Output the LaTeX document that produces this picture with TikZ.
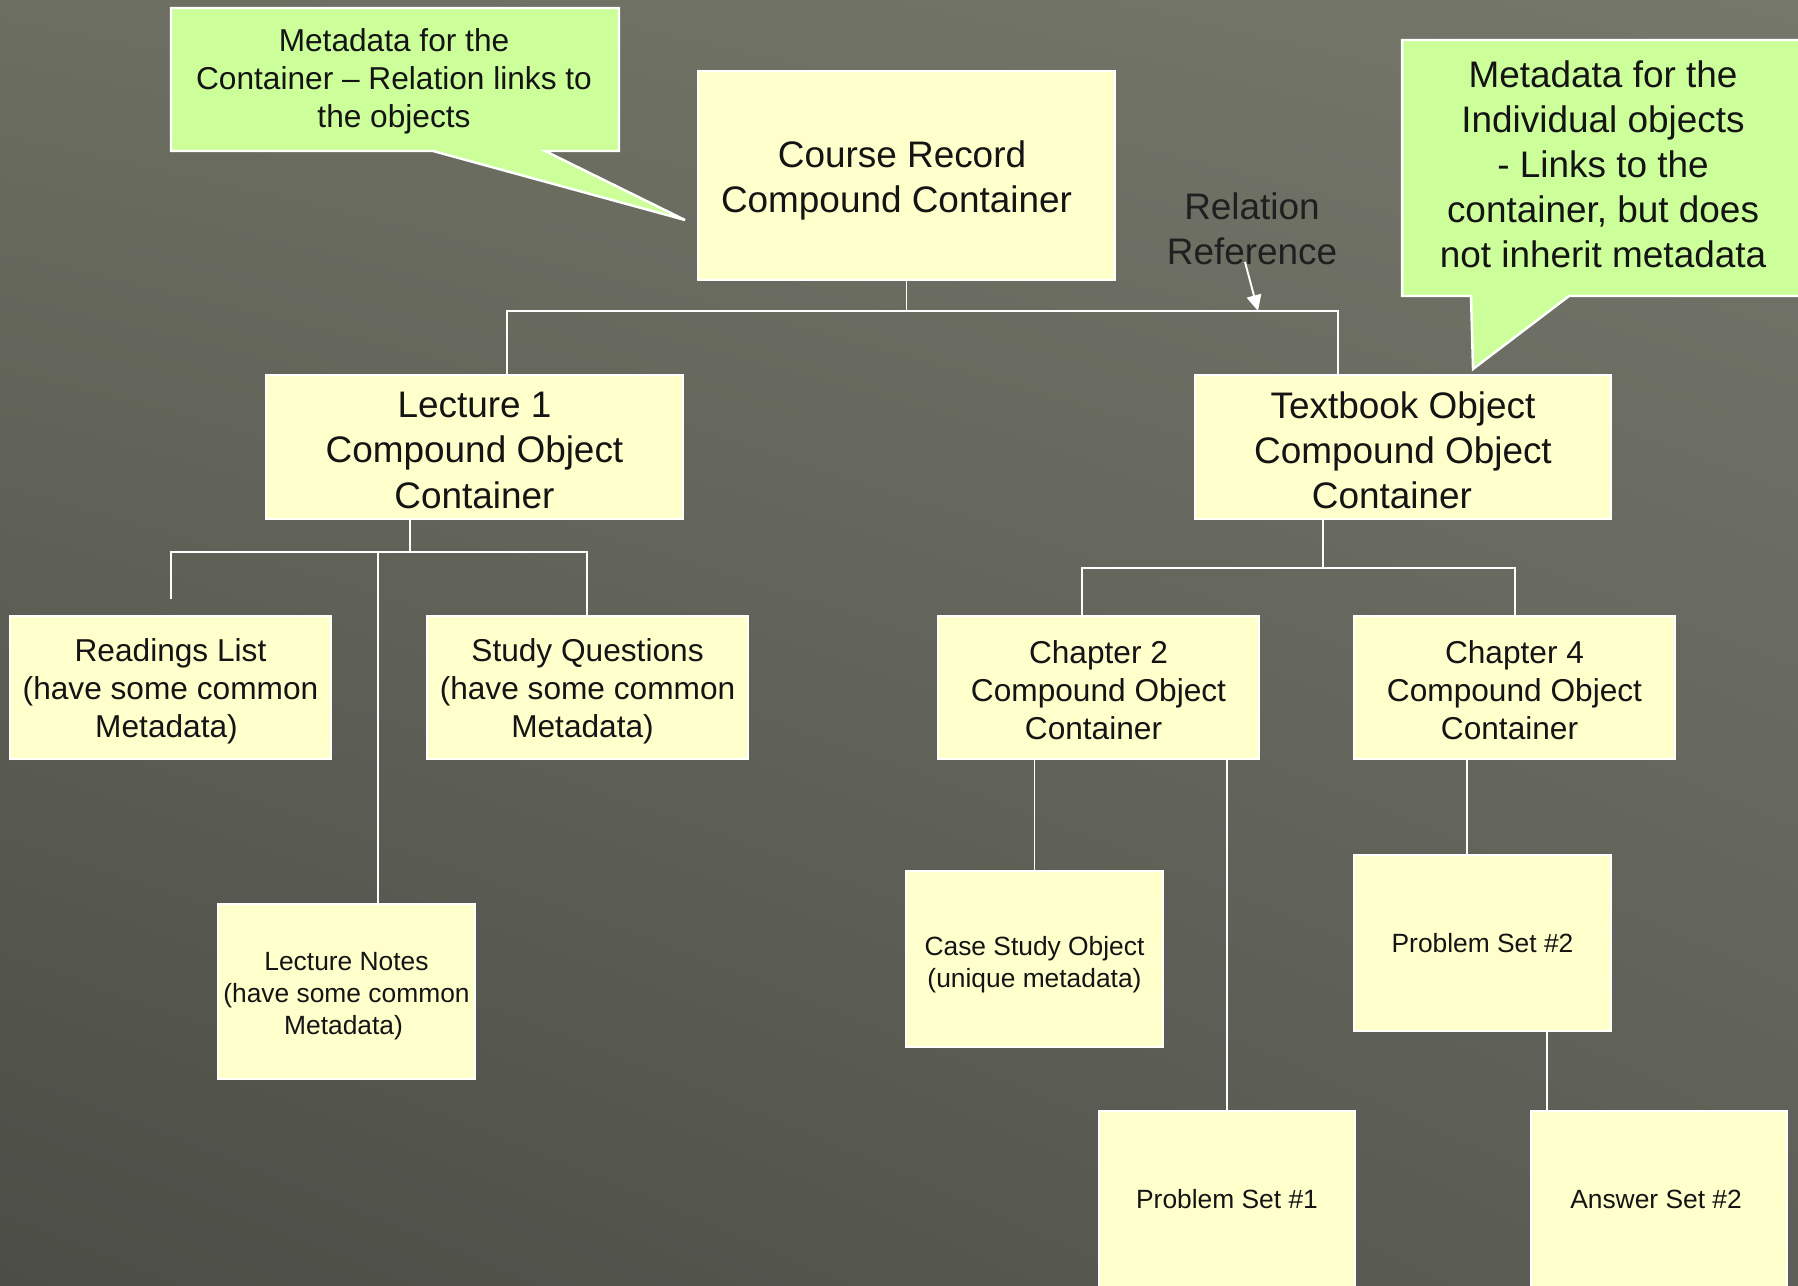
\documentclass[tikz,border=0pt]{standalone}
\usepackage{fontspec}
\setmainfont{Liberation Sans}
\usetikzlibrary{arrows.meta,positioning,shadings}
\definecolor{bgtl}{RGB}{108,110,97}
\definecolor{bgtr}{RGB}{117,119,107}
\definecolor{bgbl}{RGB}{75,77,70}
\definecolor{bgbr}{RGB}{93,94,85}
\definecolor{gul}{RGB}{255,255,204}
\definecolor{gronn}{RGB}{204,255,153}
\tikzset{
    %Define standard arrow tip
    >={Triangle[length=4.5pt,width=4.2pt]},
    %Define style for boxes
    punkt/.style={
           rectangle,
           fill=gul,
           draw=white, line width=0.7pt,
           inner sep=0pt,
           align=center,
           text=black!92},
    punktstor/.style={punkt, font=\fontsize{10.5}{12.8}\selectfont},
    punktmid/.style={punkt, font=\fontsize{9}{10.8}\selectfont},
    punktlite/.style={punkt, font=\fontsize{7.5}{9.1}\selectfont},
    % move text inside a box
    senk/.style={text height=#1, text depth=0pt},
    % Define style for speech bubbles
    snakk/.style={fill=gronn, draw=white, line width=0.7pt},
    % Define line style
    pil/.style={draw=white, line width=0.55pt}
}
\begin{document}
\begin{tikzpicture}[x=0.01cm,y=-0.01cm]
\useasboundingbox (0,0) rectangle (1798,1286);
\clip (0,0) rectangle (1798,1286);
\shade[upper left=bgtl, upper right=bgtr, lower left=bgbl, lower right=bgbr] (0,0) rectangle (1798,1286);

 %speech bubbles
\path[snakk] (171,8) -- (619,8) -- (619,151) -- (545,151) -- (685,220) -- (433,151) -- (171,151) -- cycle;
\node[font=\fontsize{9}{10.8}\selectfont, align=center, text=black!92] (snakkone) at (394,81)
    {Metadata for the\\Container \textendash{} Relation links to\\the objects};
\path[snakk] (1402,40) -- (1802,40) -- (1802,296) -- (1569,296) -- (1473,369) -- (1471,296) -- (1402,296) -- cycle;
\node[font=\fontsize{10.5}{12.8}\selectfont, align=center, text=black!92] (snakktwo) at (1603,164)
    {Metadata for the\\Individual objects\\- Links to the\\container, but does\\not inherit metadata};

 %nodes
\node[punktstor, senk=20.9pt, minimum width=4.17cm, minimum height=2.09cm] (course) at (906.5,175.5)
    {Course Record\hspace*{0.09cm}\\Compound Container\hspace*{0.2cm}};
\node[punktstor, senk=34.7pt, minimum width=4.17cm, minimum height=1.44cm] (lecture) at (474.5,447)
    {Lecture 1\\Compound Object\hspace*{0.08cm}\\Container};
\node[punktstor, senk=34.8pt, minimum width=4.16cm, minimum height=1.44cm] (textbook) at (1403,447)
    {Textbook Object\\Compound Object\hspace*{0.12cm}\\Container\hspace*{0.22cm}};
\node[punktmid, senk=28.5pt, minimum width=3.21cm, minimum height=1.43cm] (readings) at (170.5,687.5)
    {Readings List\\(have some common\\Metadata)\hspace*{0.08cm}};
\node[punktmid, senk=28.5pt, minimum width=3.21cm, minimum height=1.43cm] (study) at (587.5,687.5)
    {Study Questions\\(have some common\\Metadata)\hspace*{0.1cm}};
\node[punktmid, senk=29.5pt, minimum width=3.21cm, minimum height=1.43cm] (chaptwo) at (1098.5,687.5)
    {Chapter 2\\Compound Object\\Container\hspace*{0.1cm}};
\node[punktmid, senk=29.5pt, minimum width=3.21cm, minimum height=1.43cm] (chapfour) at (1514.5,687.5)
    {Chapter 4\\Compound Object\\Container\hspace*{0.1cm}};
\node[punktlite, senk=24.7pt, minimum width=2.57cm, minimum height=1.75cm] (notes) at (346.5,991.5)
    {Lecture Notes\\(have some common\\Metadata)\hspace*{0.06cm}};
\node[punktlite, senk=16pt, minimum width=2.57cm, minimum height=1.76cm] (casestudy) at (1034.5,959)
    {Case Study Object\\(unique metadata)};
\node[punktlite, minimum width=2.56cm, minimum height=1.76cm] (psone) at (1227,1199) {Problem Set \#1};
\node[punktlite, minimum width=2.57cm, minimum height=1.76cm] (pstwo) at (1482.5,943) {Problem Set \#2};
\node[punktlite, minimum width=2.56cm, minimum height=1.76cm] (answer) at (1659,1199) {Answer Set \#2\hspace*{0.06cm}};

\node[font=\fontsize{10.5}{12.8}\selectfont, align=center, text=black!88] (relref) at (1252,229) {Relation\\Reference};

 %links
\coordinate (busL) at (507,311);
\coordinate (busR) at (1338,311);
\draw[pil] (course.south) -- (course.south |- busL);
\draw[pil] (lecture.north -| busL) -- (busL) -- (busR) -- (busR |- textbook.north);
\coordinate (relstart) at (1245,262);
\coordinate (relend) at (1258,311);
\draw[pil,->] (relstart) -- (relend);

\coordinate (lstem) at (410,552);
\coordinate (lbusL) at (171,552);
\coordinate (lbusR) at (587,552);
\coordinate (lmid) at (378,552);
\coordinate (lend) at (171,599);
\draw[pil] (lstem |- lecture.south) -- (lstem);
\draw[pil] (lend) -- (lbusL) -- (lbusR) -- (lbusR |- study.north);
\draw[pil] (lmid) -- (lmid |- notes.north);

\coordinate (tstem) at (1323,568);
\coordinate (tbusL) at (1082,568);
\coordinate (tbusR) at (1515,568);
\draw[pil] (tstem |- textbook.south) -- (tstem);
\draw[pil] (tbusL |- chaptwo.north) -- (tbusL) -- (tbusR) -- (tbusR |- chapfour.north);

\draw[pil] (casestudy.north |- chaptwo.south) -- (casestudy.north);
\draw[pil] (psone.north |- chaptwo.south) -- (psone.north);
\coordinate (cfour) at (1467,800);
\draw[pil] (cfour |- chapfour.south) -- (cfour |- pstwo.north);
\coordinate (ptwo) at (1547,1070);
\draw[pil] (ptwo |- pstwo.south) -- (ptwo |- answer.north);

\end{tikzpicture}
\end{document}
